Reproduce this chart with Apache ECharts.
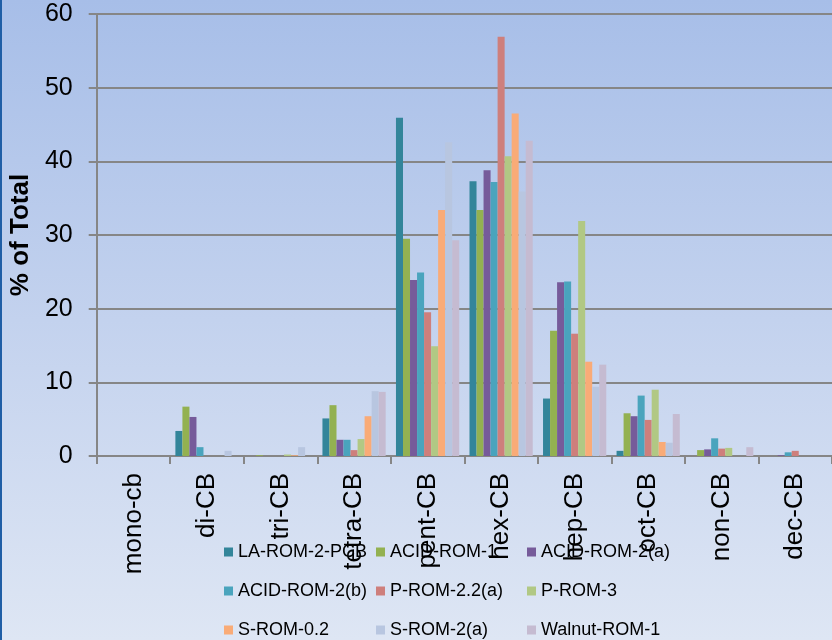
<!DOCTYPE html>
<html>
<head>
<meta charset="utf-8">
<script src="https://cdn.jsdelivr.net/npm/echarts@6/dist/echarts.min.js"></script>
<style>
html,body{margin:0;padding:0;}
body{width:832px;height:640px;overflow:hidden;background:linear-gradient(to bottom,#a7bee8 0%,#c3d2ee 50%,#dee6f4 100%);}
#wrap{position:absolute;left:0;top:0;width:832px;height:640px;border-left:2px solid #1f5ea6;box-sizing:border-box;}
#chart{position:absolute;left:0;top:0;width:832px;height:640px;}
</style>
</head>
<body>
<div id="wrap"></div>
<div id="chart"></div>
<script>
const categories = ['mono-cb','di-CB','tri-CB','tetra-CB','pent-CB','hex-CB','hep-CB','oct-CB','non-CB','dec-CB'];
const seriesNames = ['LA-ROM-2-PCB','ACID-ROM-1','ACID-ROM-2(a)','ACID-ROM-2(b)','P-ROM-2.2(a)','P-ROM-3','S-ROM-0.2','S-ROM-2(a)','Walnut-ROM-1'];
const laRom2Pcb   = [0, 3.4, 0,   5.1, 45.9, 37.3,  7.8, 0.7, 0,   0];
const acidRom1    = [0, 6.7, 0.1, 6.9, 29.5, 33.4, 17.0, 5.8, 0.8, 0];
const acidRom2a   = [0, 5.3, 0,   2.2, 23.9, 38.8, 23.6, 5.4, 0.9, 0.1];
const acidRom2b   = [0, 1.2, 0,   2.2, 24.9, 37.2, 23.7, 8.2, 2.4, 0.5];
const pRom22a     = [0, 0,   0,   0.8, 19.5, 56.9, 16.6, 4.9, 1.0, 0.7];
const pRom3       = [0, 0,   0.2, 2.3, 14.9, 40.7, 31.9, 9.0, 1.1, 0];
const sRom02      = [0, 0,   0.1, 5.4, 33.4, 46.5, 12.8, 1.9, 0,   0];
const sRom2a      = [0, 0.7, 1.2, 8.8, 42.6, 35.9,  9.4, 1.8, 0,   0];
const walnutRom1  = [0, 0,   0,   8.7, 29.3, 42.8, 12.4, 5.7, 1.2, 0];
const yTicks = [0, 10, 20, 30, 40, 50, 60];

const values = [laRom2Pcb, acidRom1, acidRom2a, acidRom2b, pRom22a, pRom3, sRom02, sRom2a, walnutRom1];
const colors = ['#33859a','#93b151','#765b9a','#4aa4bd','#ce7f7c','#b1c884','#f9ab77','#b8c6e0','#c5bbd1'];

const chart = echarts.init(document.getElementById('chart'), null, {renderer:'canvas'});
const font = 'Liberation Sans, Arial, sans-serif';
const legendCommon = {
  orient: 'vertical', top: 542, height: 120, padding: 0,
  itemWidth: 9, itemHeight: 9, itemGap: 19,
  icon: 'rect',
  textStyle: {fontFamily: font, fontSize: 18, color: '#000', lineHeight: 20}
};
chart.setOption({
  backgroundColor: 'transparent',
  color: colors,
  animation: false,
  grid: {left: 94, top: 14, width: 743, height: 442, containLabel: false},
  legend: [
    Object.assign({left: 224, data: [seriesNames[0], seriesNames[3], seriesNames[6]]}, legendCommon),
    Object.assign({left: 376, data: [seriesNames[1], seriesNames[4], seriesNames[7]]}, legendCommon),
    Object.assign({left: 527, data: [seriesNames[2], seriesNames[5], seriesNames[8]]}, legendCommon)
  ],
  xAxis: {
    type: 'category', data: categories,
    axisLine: {lineStyle: {color: '#868686', width: 2}},
    axisTick: {show: true, length: 8, lineStyle: {color: '#868686', width: 2}},
    axisLabel: {rotate: 90, margin: 17, fontFamily: font, fontSize: 26, color: '#000', interval: 0}
  },
  yAxis: {
    type: 'value', min: yTicks[0], max: yTicks[yTicks.length-1], interval: 10,
    name: '% of Total', nameLocation: 'middle', nameGap: 56, nameRotate: 90,
    nameTextStyle: {fontFamily: font, fontSize: 26, fontWeight: 'bold', color: '#000'},
    axisLine: {show: true, lineStyle: {color: '#868686', width: 2}},
    axisTick: {show: true, length: 8, lineStyle: {color: '#868686', width: 2}},
    axisLabel: {margin: 24, fontFamily: font, fontSize: 25, color: '#000'},
    splitLine: {lineStyle: {color: '#868686', width: 2}}
  },
  series: seriesNames.map((n, i) => ({
    name: n, type: 'bar', data: values[i],
    barGap: '0%', barCategoryGap: '14%',
    itemStyle: {color: colors[i]}
  }))
});
</script>
</body>
</html>
